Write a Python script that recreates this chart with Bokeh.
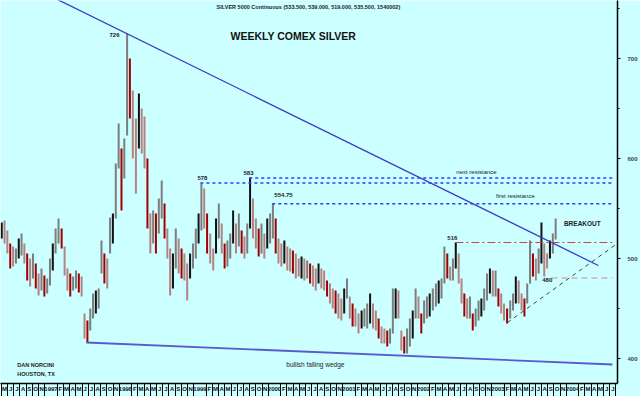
import pandas as pd
from bokeh.plotting import figure
from bokeh.models import Range1d, FixedTicker, Label, ColumnDataSource
from bokeh.embed import file_html
from bokeh.resources import INLINE

# ---------------- data ----------------
first_bar = "1996-05-03"      # first plotted bar (bars every two weeks)
bar_step_days = 14

highs = [536, 538, 528, 515, 512, 510, 520, 525, 515, 505,
         500, 505, 495, 485, 490, 483, 480, 500, 515, 530,
         540, 530, 512, 490, 485, 482, 488, 485, 482, 445,
         438, 450, 465, 468, 470, 518, 505, 500, 541, 545,
         595, 635, 610, 620, 725, 700, 668, 640, 665, 650,
         642, 600, 545, 548, 545, 560, 578, 555, 530, 510,
         505, 530, 520, 510, 505, 495, 505, 515, 530, 545,
         575, 570, 545, 525, 510, 540, 555, 535, 515, 518,
         525, 548, 535, 545, 528, 522, 535, 581, 560, 540,
         530, 535, 525, 540, 545, 555, 540, 520, 515, 518,
         512, 510, 508, 505, 500, 502, 500, 498, 495, 493,
         490, 495, 490, 488, 478, 475, 470, 468, 465, 460,
         470, 480, 462, 455, 450, 445, 448, 450, 455, 465,
         455, 448, 440, 432, 430, 428, 430, 470, 470, 468,
         428, 422, 430, 440, 448, 470, 462, 445, 458, 462,
         465, 470, 475, 478, 480, 512, 505, 492, 500, 516,
         505, 480, 465, 460, 462, 445, 450, 458, 460, 470,
         485, 490, 488, 488, 470, 465, 455, 450, 458, 465,
         482, 478, 465, 460, 475, 518, 505, 500, 510, 536,
         515, 505, 518, 525, 540]

lows = [520, 515, 505, 490, 492, 495, 500, 503, 495, 478,
        472, 480, 470, 463, 468, 462, 465, 473, 488, 505,
        515, 510, 483, 468, 462, 468, 470, 466, 462, 420,
        416, 428, 440, 445, 450, 485, 475, 470, 505, 515,
        540, 590, 548, 580, 623, 640, 600, 565, 610, 605,
        590, 530, 505, 515, 505, 525, 540, 520, 500, 463,
        470, 490, 485, 480, 478, 458, 480, 490, 500, 515,
        528, 530, 505, 495, 488, 505, 520, 505, 490, 492,
        500, 515, 505, 512, 505, 500, 505, 530, 520, 510,
        502, 505, 500, 510, 515, 520, 505, 495, 492, 495,
        488, 487, 485, 480, 482, 480, 478, 480, 475, 472,
        468, 475, 470, 468, 462, 455, 450, 445, 440, 438,
        445, 460, 440, 432, 432, 425, 430, 432, 430, 435,
        430, 428, 420, 415, 415, 412, 415, 425, 440, 440,
        408, 405, 405, 412, 420, 440, 440, 425, 435, 440,
        442, 448, 452, 455, 460, 475, 480, 478, 478, 490,
        475, 455, 442, 440, 440, 428, 432, 438, 442, 448,
        458, 465, 462, 462, 452, 445, 438, 435, 440, 448,
        455, 455, 448, 442, 455, 475, 482, 478, 485, 495,
        482, 490, 500, 505, 519]

# horizontal resistance / support levels
level_values = [580.5, 575.5, 554.75, 516, 480.5]
level_labels = ["583", "578", "554.75", "516", "480"]
level_starts = ["1999-08-30", "1999-01-03", "1999-12-21", "2002-06-05", "2003-09-19"]
level_end = "2004-07-14"
label_dates = ["1999-08-26", "1999-01-13", "2000-02-14", "2002-05-21", "2003-08-30"]
label_values = [586, 581, 564, 521, 479]

# trend lines
upper_wedge_dates = ["1996-04-27", "2004-05-06"]
upper_wedge_values = [787, 493]
lower_wedge_dates = ["1997-06-22", "2004-07-14"]
lower_wedge_values = [416, 394]
support_dates = ["2003-02-16", "2004-08-08"]
support_values = [436, 515]

peak_label = "726"
peak_label_pos = ("1997-12-02", 724)

# axis tick labels
month_letters = ["J", "F", "M", "A", "M", "J", "J", "A", "S", "O", "N", "D"]
first_month, last_month = 4, 104     # months counted from Jan 1996
price_ticks = [400, 500, 600, 700]
price_minor_ticks = [450, 550, 650, 750]

title_text = "WEEKLY COMEX SILVER"
subtitle_text = "SILVER 5000 Continuous (533.500, 539.000, 519.000, 535.500, 1540002)"

# ---------------- helpers ----------------
def mi(d):
    t = pd.Timestamp(d)
    return (t.year - 1996) * 12 + t.month - 1 + (t.day - 1) / t.days_in_month

BG = "#CCFFFF"
FONT = "Liberation Sans"

p = figure(width=640, height=396, output_backend="svg", toolbar_location=None,
           x_range=Range1d(3.866, 103.25), y_range=Range1d(375, 758),
           y_axis_location="right", min_border_left=0, min_border_top=0,
           min_border_right=23, min_border_bottom=13,
           background_fill_color=BG, border_fill_color=BG, outline_line_color=None)
p.grid.visible = False

# ---- x axis: month letters with separators, year labels ----
major, overrides, seps = [], {}, []
for m in range(first_month, last_month):
    k = m % 12
    if k == 0:
        major.append(float(m))
        overrides[float(m)] = str(1996 + m // 12)
    else:
        seps.append(float(m))
        if k != 11:
            major.append(m + 0.5)
            overrides[m + 0.5] = month_letters[k]
xa = p.xaxis[0]
xa.ticker = FixedTicker(ticks=major, minor_ticks=seps)
xa.major_label_overrides = overrides
xa.major_tick_out = 12
xa.major_tick_in = 0
xa.major_tick_line_color = None
xa.minor_tick_out = 13
xa.minor_tick_in = 0
xa.minor_tick_line_color = "black"
xa.minor_tick_line_width = 1
xa.axis_line_color = "black"
xa.axis_line_width = 1.5
xa.major_label_text_font = FONT
xa.major_label_text_font_size = "6px"
xa.major_label_text_font_style = "bold"
xa.major_label_text_color = "#111111"
xa.major_label_standoff = -11

ya = p.yaxis[0]
ya.ticker = FixedTicker(ticks=price_ticks, minor_ticks=price_minor_ticks)
ya.major_tick_out = 3
ya.major_tick_in = 0
ya.minor_tick_out = 2
ya.minor_tick_in = 0
ya.axis_line_color = "black"
ya.axis_line_width = 1.5
ya.major_label_text_font = FONT
ya.major_label_text_font_size = "6px"
ya.major_label_text_font_style = "bold"
ya.major_label_standoff = 7

# ---- price bars ----
dates = pd.date_range(first_bar, periods=len(highs), freq=f"{bar_step_days}D")
xs = [mi(d) for d in dates]
colors = []
prev = None
for i, (h, l) in enumerate(zip(highs, lows)):
    mid = (h + l) / 2
    up = prev is None or mid >= prev
    dark = (i % 3 == 0)
    if up:
        colors.append("#111111" if dark else "#7d7d7d")
    else:
        colors.append("#a00000" if dark else "#b58282")
    prev = mid
src = ColumnDataSource(dict(x=xs, high=highs, low=lows, color=colors))
p.segment(x0="x", y0="low", x1="x", y1="high", source=src, line_color="color", line_width=2)

# ---- trend lines ----
p.line([mi(d) for d in upper_wedge_dates], upper_wedge_values, line_color="#3a3ac8", line_width=1.3)
p.line([mi(d) for d in lower_wedge_dates], lower_wedge_values, line_color="#5a5acc", line_width=1.8)
p.line([mi(d) for d in support_dates], support_values, line_color="#444444", line_width=1,
       line_dash="4 4")

level_styles = [("#2a3cff", "3 3", 1.6), ("#2a3cff", "3 3", 1.6), ("#2a3cff", "3 3", 1.4),
                ("#d04040", "8 3 2 3", 1.0), ("#d08a8a", "6 4", 1.2)]
for v, s, (c, dash, w) in zip(level_values, level_starts, level_styles):
    p.line([mi(s), mi(level_end)], [v, v], line_color=c, line_dash=dash, line_width=w)

def add_label(x, y, text, size="6px", align="center", bold=True, color="#222222"):
    p.add_layout(Label(x=x, y=y, text=text, text_font=FONT, text_font_size=size,
                       text_font_style="bold" if bold else "normal",
                       text_align=align, text_baseline="middle", text_color=color))

for d, v, t in zip(label_dates, label_values, level_labels):
    add_label(mi(d), v, t)
add_label(mi(peak_label_pos[0]), peak_label_pos[1], peak_label, align="right")

add_label(mi("2000-06-15"), 752, subtitle_text, size="5.5px")
add_label(mi("2000-04-02"), 723, title_text, size="10.5px", color="#111111")
add_label(mi("2002-09-17"), 587, "next resistance", size="6px", bold=False)
add_label(mi("2003-03-26"), 563, "first resistance", size="6px", bold=False)
add_label(mi("2004-02-18"), 535, "BREAKOUT", size="6.5px")
add_label(mi("2000-07-19"), 394, "bullish falling wedge", size="6.5px", bold=False)
add_label(mi("1996-07-19"), 394, "DAN NORCINI", size="5.5px", align="left")
add_label(mi("1996-07-19"), 385, "HOUSTON, TX", size="5.5px", align="left")

open("out.html", "w").write(file_html(p, INLINE))
